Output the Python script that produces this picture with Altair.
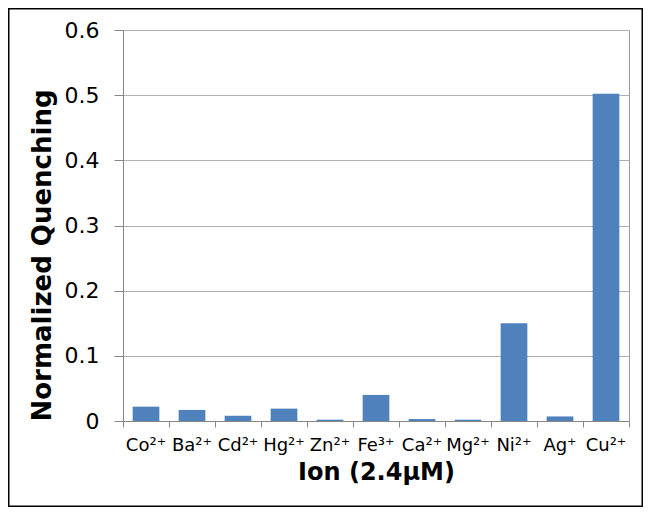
import altair as alt
import pandas as pd

ions = ["Co²⁺", "Ba²⁺", "Cd²⁺", "Hg²⁺", "Zn²⁺", "Fe³⁺", "Ca²⁺", "Mg²⁺", "Ni²⁺", "Ag⁺", "Cu²⁺"]
quenching = [0.022, 0.017, 0.008, 0.019, 0.002, 0.040, 0.003, 0.002, 0.150, 0.007, 0.502]
y_ticks = [0, 0.1, 0.2, 0.3, 0.4, 0.5, 0.6]

df = pd.DataFrame({"ion": ions, "q": quenching})

W, H = 506, 391
PL, PT, PR, PB = 115, 22, 14, 86
FONT = "DejaVu Sans"

bars = alt.Chart(df).mark_bar(color="#4F81BD", width=alt.RelativeBandSize(0.58)).encode(
    x=alt.X(
        "ion:N",
        sort=ions,
        scale=alt.Scale(paddingInner=0, paddingOuter=0),
        axis=alt.Axis(
            title="Ion (2.4μM)",
            titleFont=FONT,
            titleFontSize=24,
            titleFontWeight="bold",
            titleColor="black",
            titleBaseline="alphabetic",
            titleY=58,
            labelFont=FONT,
            labelFontSize=18,
            labelColor="black",
            labelAngle=0,
            labelPadding=9,
            tickSize=6,
            bandPosition=1,
            tickExtra=True,
            labelOverlap=False,
        ),
    ),
    y=alt.Y(
        "q:Q",
        scale=alt.Scale(domain=[0, 0.6], nice=False),
        axis=alt.Axis(
            title="Normalized Quenching",
            values=y_ticks,
            format="~g",
            titleFont=FONT,
            titleFontSize=26,
            titleFontWeight="bold",
            titleColor="black",
            titleAngle=-90,
            titleBaseline="alphabetic",
            titleX=-73,
            titleY=225,
            labelFont=FONT,
            labelFontSize=22,
            labelColor="black",
            labelPadding=15,
            tickSize=9,
            grid=True,
        ),
    ),
)

border = alt.Chart(pd.DataFrame({"a": [0]})).mark_rect(
    filled=False, stroke="black", strokeWidth=1.5
).encode(
    x=alt.value(-PL + 0.75),
    x2=alt.value(W + PR - 0.75),
    y=alt.value(-PT + 0.75),
    y2=alt.value(H + PB - 0.75),
)

chart = alt.layer(bars, border).properties(
    width=W,
    height=H,
    autosize=alt.AutoSizeParams(type="none"),
    padding={"left": PL, "top": PT, "right": PR, "bottom": PB},
    background="white",
).configure_view(
    stroke="#999999", strokeWidth=1
).configure_axis(
    domainColor="#868686",
    tickColor="#868686",
    gridColor="#B0B0B0",
    domainWidth=1,
    tickWidth=1,
)

chart.save("out.html", embed_options={"renderer": "svg", "actions": False})
